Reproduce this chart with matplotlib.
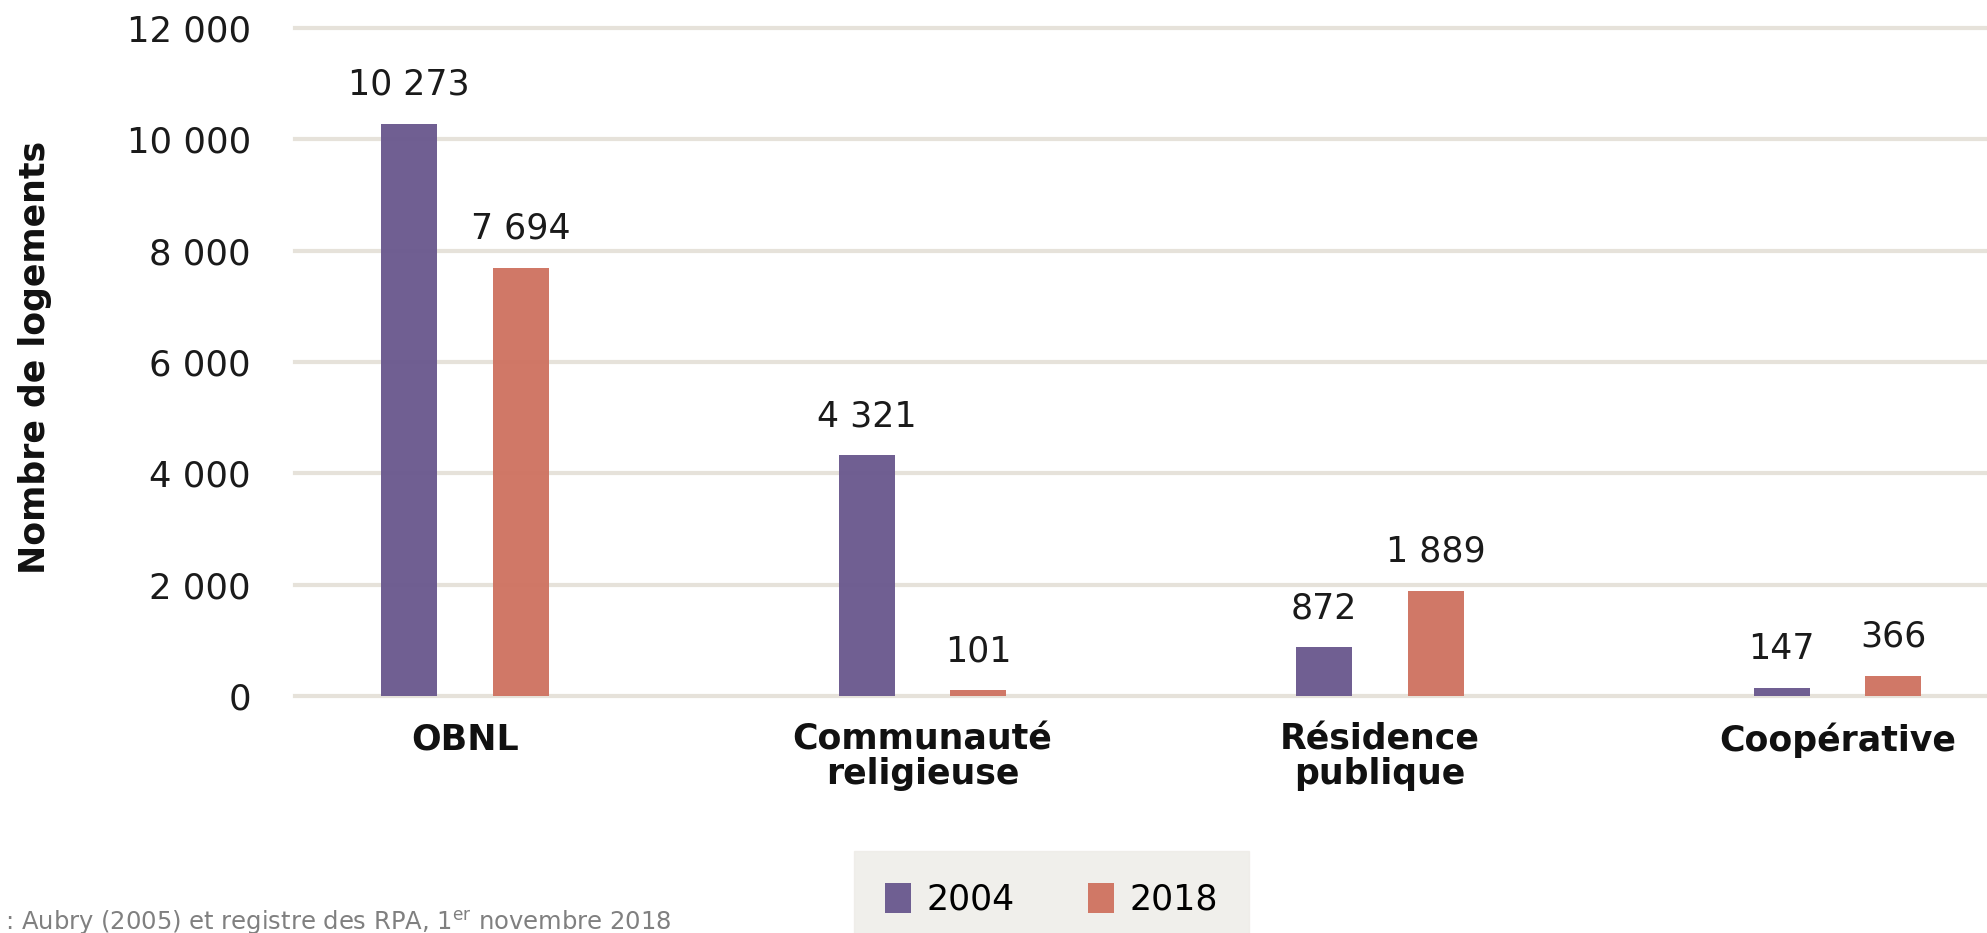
import matplotlib
matplotlib.use("Agg")
import matplotlib.pyplot as plt
import numpy as np

categories = ["OBNL", "Communauté\nreligieuse", "Résidence\npublique", "Coopérative"]
series_names = ["2004", "2018"]
values_2004 = [10273, 4321, 872, 147]
values_2018 = [7694, 101, 1889, 366]
yticks = [0, 2000, 4000, 6000, 8000, 10000, 12000]

colors = ["#6b5a8f", "#cf7462"]
grid_color = "#e6e2da"

def fmt(v):
    return f"{v:,}".replace(",", " ")

plt.rcParams['font.family'] = ['DejaVu Sans']

fig = plt.figure(figsize=(19.87, 9.33), dpi=100)
ax = fig.add_axes([0.1486, 0.254, 0.8514, 0.716])

x = np.arange(len(categories))
w = 0.122
for i, (vals, name) in enumerate(zip([values_2004, values_2018], series_names)):
    off = (-1 if i == 0 else 1) * w
    ax.bar(x + off, vals, width=w, color=colors[i], alpha=0.97, label=name, zorder=2)
    for xi, v in zip(x + off, vals):
        ax.annotate(fmt(v), (xi, v), xytext=(0, 16), textcoords="offset points",
                    ha="center", va="bottom", fontsize=25, color="#1a1a1a")

ax.set_xlim(-0.371, 3.327)
ax.set_ylim(0, 12000)
ax.set_yticks(yticks)
ax.set_yticklabels([fmt(t) for t in yticks], fontsize=25.5, color="#1a1a1a")
ax.set_xticks(x)
ax.set_xticklabels(categories, fontsize=25, fontweight="bold", linespacing=1.02, color="#111111")
ax.tick_params(axis="both", length=0)
ax.tick_params(axis="y", pad=32)
ax.tick_params(axis="x", pad=19)
for s in ax.spines.values():
    s.set_visible(False)
ax.yaxis.grid(True, color=grid_color, linewidth=3, zorder=0)
ax.set_axisbelow(True)
for gl in ax.get_ygridlines():
    gl.set_clip_on(False)

fig.text(0.0175, 0.617, "Nombre de logements", rotation=90, ha="center", va="center",
         fontsize=25, fontweight="bold", color="#111111")

leg = fig.legend(loc="upper center", bbox_to_anchor=(0.5293, 0.0875), ncol=2, frameon=True,
                 fontsize=25, handlelength=0.75, handleheight=0.95, handletextpad=0.45,
                 columnspacing=2.1, borderpad=0.9, borderaxespad=0, fancybox=False)
leg.get_frame().set_facecolor("#edebe6")
leg.get_frame().set_edgecolor("#edebe6")

fig.text(0.338, 0.002, r"Sources : Aubry (2005) et registre des RPA, 1$^{\mathregular{er}}$ novembre 2018",
         ha="right", va="baseline", fontsize=17.5, color="#808080")

fig.savefig("out.png", dpi=100)
